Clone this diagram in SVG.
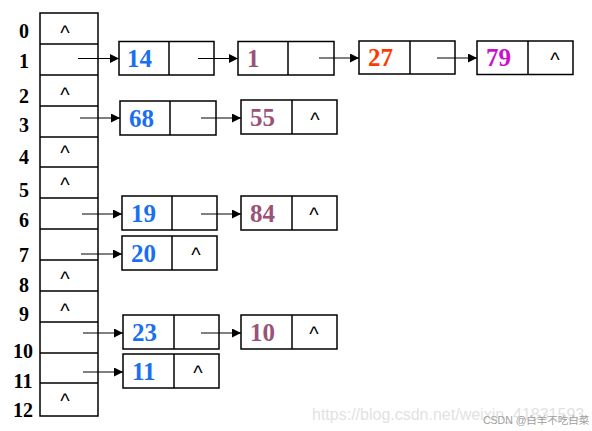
<svg xmlns="http://www.w3.org/2000/svg" width="592" height="431" viewBox="0 0 592 431">
<defs>
<marker id="ah" viewBox="0 0 10 10" refX="10" refY="5" markerWidth="9" markerHeight="9" markerUnits="userSpaceOnUse" orient="auto"><path d="M0,0 L10,5 L0,10 z" fill="#000"/></marker>
<style>
.box{fill:#fff;stroke:#000;stroke-width:1.5}
.ln{stroke:#000;stroke-width:1.5}
.idx{font-family:"Liberation Serif",serif;font-weight:bold;font-size:20px;fill:#000;text-anchor:middle}
.num{font-family:"Liberation Serif",serif;font-weight:bold;font-size:25px}
.car{font-family:"Liberation Sans",sans-serif;font-size:20px;fill:#000;text-anchor:middle}
.con{stroke:#000;stroke-width:1;fill:none;marker-end:url(#ah)}
.b{fill:#1a6ff0}.p{fill:#9b5278}.r{fill:#ff3a00}.m{fill:#cc11cc}
</style>
</defs>
<rect width="592" height="431" fill="#fff"/>
<g id="table">
<rect class="box" x="40" y="13" width="58" height="403"/>
<path class="ln" d="M40 44H98M40 75H98M40 106H98M40 137H98M40 167H98M40 198H98M40 229H98M40 260H98M40 291H98M40 322H98M40 353H98M40 383H98"/>
<text class="car" x="65" y="40">^</text>
<text class="car" x="65" y="102">^</text>
<text class="car" x="65" y="160">^</text>
<text class="car" x="65" y="192">^</text>
<text class="car" x="65" y="286">^</text>
<text class="car" x="65" y="318">^</text>
<text class="car" x="65" y="408">^</text>
</g>
<g id="indices">
<text class="idx" x="24" y="38">0</text>
<text class="idx" x="24" y="68">1</text>
<text class="idx" x="24" y="103">2</text>
<text class="idx" x="24" y="132">3</text>
<text class="idx" x="24" y="164">4</text>
<text class="idx" x="24" y="197">5</text>
<text class="idx" x="24" y="227">6</text>
<text class="idx" x="24" y="262">7</text>
<text class="idx" x="24" y="292">8</text>
<text class="idx" x="24" y="321">9</text>
<text class="idx" x="23" y="358">10</text>
<text class="idx" x="23" y="388">11</text>
<text class="idx" x="23" y="417">12</text>
</g>
<g id="n14"><rect class="box" x="119" y="41.5" width="95" height="33.5"/><path class="ln" d="M169 41.5V75"/><text class="num b" x="127" y="67">14</text></g>
<g id="n1"><rect class="box" x="238" y="41.5" width="96" height="33.5"/><path class="ln" d="M288 41.5V75"/><text class="num p" x="247" y="67">1</text></g>
<g id="n27"><rect class="box" x="359" y="41" width="96" height="33"/><path class="ln" d="M410 41V74"/><text class="num r" x="368" y="66">27</text></g>
<g id="n79"><rect class="box" x="477" y="41" width="96" height="33.5"/><path class="ln" d="M528 41V74.5"/><text class="num m" x="486" y="66">79</text><text class="car" x="555" y="67">^</text></g>
<g id="n68"><rect class="box" x="120" y="101" width="96" height="34"/><path class="ln" d="M170 101V135"/><text class="num b" x="129" y="127">68</text></g>
<g id="n55"><rect class="box" x="241" y="100" width="96" height="34"/><path class="ln" d="M292 100V134"/><text class="num p" x="250" y="126">55</text><text class="car" x="315" y="127">^</text></g>
<g id="n19"><rect class="box" x="122" y="196" width="95" height="34"/><path class="ln" d="M172 196V230"/><text class="num b" x="131" y="222">19</text></g>
<g id="n84"><rect class="box" x="241" y="196" width="96" height="34"/><path class="ln" d="M292 196V230"/><text class="num p" x="250" y="222">84</text><text class="car" x="314" y="222">^</text></g>
<g id="n20"><rect class="box" x="122" y="236" width="95" height="34"/><path class="ln" d="M172 236V270"/><text class="num b" x="131" y="262">20</text><text class="car" x="196" y="262">^</text></g>
<g id="n23"><rect class="box" x="123" y="315" width="96" height="34"/><path class="ln" d="M174 315V349"/><text class="num b" x="132" y="341">23</text></g>
<g id="n10"><rect class="box" x="241" y="315" width="96" height="34"/><path class="ln" d="M292 315V349"/><text class="num p" x="250" y="341">10</text><text class="car" x="314" y="341">^</text></g>
<g id="n11"><rect class="box" x="123" y="354" width="96" height="34"/><path class="ln" d="M174 354V388"/><text class="num b" x="132" y="380">11</text><text class="car" x="198" y="380">^</text></g>
<g id="connectors">
<path class="con" d="M78 58.5H119"/>
<path class="con" d="M198 58.5H238"/>
<path class="con" d="M319 58H359"/>
<path class="con" d="M437 58H477"/>
<path class="con" d="M80 118H120"/>
<path class="con" d="M201 118H241"/>
<path class="con" d="M82 214H122"/>
<path class="con" d="M201 214H241"/>
<path class="con" d="M81 254H122"/>
<path class="con" d="M83 333H123"/>
<path class="con" d="M201 333H241"/>
<path class="con" d="M83 372H123"/>
</g>
<g id="watermark">
<text x="312" y="420" font-family="Liberation Sans,sans-serif" font-size="16" fill="#e2e2e2">https://blog.csdn.net/weixin_41831593</text>
<text x="483" y="424" font-family="Liberation Sans,'Noto Sans CJK SC',sans-serif" font-size="10.5" fill="#a0a0a0">CSDN @白羊不吃白菜</text>
</g>
</svg>
